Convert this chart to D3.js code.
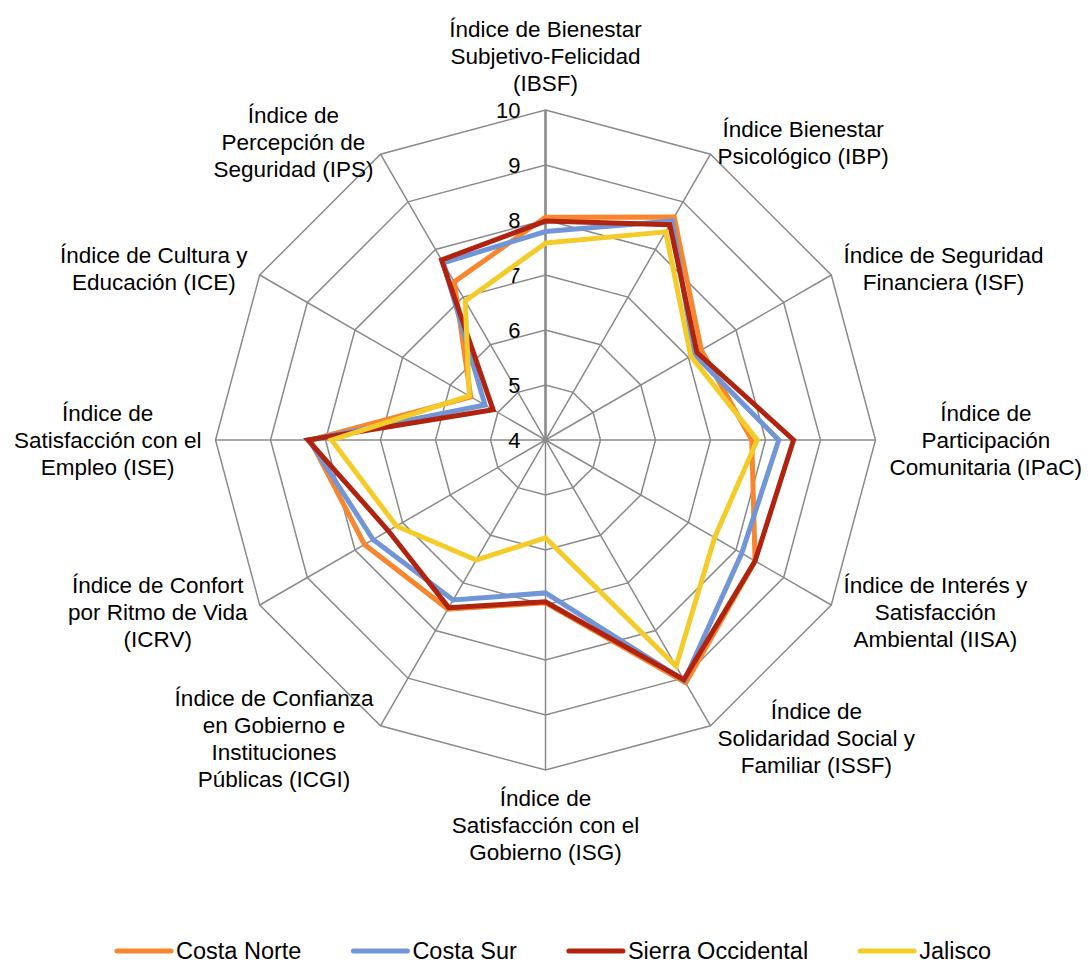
<!DOCTYPE html>
<html>
<head>
<meta charset="utf-8">
<script src="https://cdn.jsdelivr.net/npm/d3@7"></script>
<style>
  body { margin: 0; background: #fff; }
  svg { display: block; font-family: "Liberation Sans", Arial, sans-serif; }
</style>
</head>
<body>
<svg width="1091" height="963"></svg>
<script>
// categories (one per spoke, clockwise from top), each split in lines as drawn
var categories = [
  ["Índice de Bienestar", "Subjetivo-Felicidad", "(IBSF)"],
  ["Índice Bienestar", "Psicológico (IBP)"],
  ["Índice de Seguridad", "Financiera (ISF)"],
  ["Índice de", "Participación", "Comunitaria (IPaC)"],
  ["Índice de Interés y", "Satisfacción", "Ambiental (IISA)"],
  ["Índice de", "Solidaridad Social y", "Familiar (ISSF)"],
  ["Índice de", "Satisfacción con el", "Gobierno (ISG)"],
  ["Índice de Confianza", "en Gobierno e", "Instituciones", "Públicas (ICGI)"],
  ["Índice de Confort", "por Ritmo de Vida", "(ICRV)"],
  ["Índice de", "Satisfacción con el", "Empleo (ISE)"],
  ["Índice de Cultura y", "Educación (ICE)"],
  ["Índice de", "Percepción de", "Seguridad (IPS)"]
];

var seriesNames = ["Costa Norte", "Costa Sur", "Sierra Occidental", "Jalisco"];

var costaNorte = [8.05, 8.68, 7.27, 7.75, 8.40, 9.10, 6.96, 7.55, 7.80, 8.28, 5.57, 7.32];
var costaSur   = [7.79, 8.60, 7.12, 8.24, 8.12, 9.05, 6.78, 7.36, 7.62, 8.30, 5.27, 7.72];
var sierraOcc  = [7.98, 8.52, 7.18, 8.51, 8.40, 9.03, 6.94, 7.52, 7.30, 8.32, 5.10, 7.78];
var jalisco    = [7.58, 8.37, 7.05, 7.85, 7.55, 8.75, 5.78, 6.52, 7.13, 7.89, 5.60, 6.92];

var tickValues = [4, 5, 6, 7, 8, 9, 10];

var colors = ["#f7862f", "#7196d8", "#b0230f", "#f3cc2a"];

var svg = d3.select("svg"),
    cx = 545.5,
    cy = 440,
    R = 330,
    fontSize = 22.5,
    lineH = 27;

var series = [costaNorte, costaSur, sierraOcc, jalisco].map(function(v, i) {
  return {name: seriesNames[i], values: v};
});

var r = d3.scaleLinear().domain([4, 10]).range([0, R]);
var angle = d3.scaleLinear().domain([0, categories.length]).range([0, 2 * Math.PI]);

function pt(i, v) {
  var a = angle(i);
  return [cx + r(v) * Math.sin(a), cy - r(v) * Math.cos(a)];
}

var g = svg.append("g");

// ring grid
g.append("g").selectAll("polygon")
  .data(tickValues.slice(1))
  .enter().append("polygon")
    .attr("points", function(t) {
      return categories.map(function(c, i) { return pt(i, t).join(","); }).join(" ");
    })
    .attr("fill", "none")
    .attr("stroke", "#8a8a8a")
    .attr("stroke-width", 1.5);

// spokes
g.append("g").selectAll("line")
  .data(categories)
  .enter().append("line")
    .attr("x1", cx).attr("y1", cy)
    .attr("x2", function(d, i) { return pt(i, 10)[0]; })
    .attr("y2", function(d, i) { return pt(i, 10)[1]; })
    .attr("stroke", "#8a8a8a")
    .attr("stroke-width", function(d, i) { return i === 0 ? 2.6 : 1.5; });

// value ticks along the first spoke
g.append("g").selectAll("text")
  .data(tickValues)
  .enter().append("text")
    .attr("x", cx - 25)
    .attr("y", function(t) { return cy - r(t); })
    .attr("dy", "0.36em")
    .attr("text-anchor", "end")
    .attr("font-size", 22)
    .attr("fill", "#000")
    .text(function(t) { return t; });

// series lines
var line = d3.line()
  .x(function(d, i) { return pt(i, d)[0]; })
  .y(function(d, i) { return pt(i, d)[1]; })
  .curve(d3.curveLinearClosed);

g.append("g").selectAll("path")
  .data(series)
  .enter().append("path")
    .attr("d", function(s) { return line(s.values); })
    .attr("fill", "none")
    .attr("stroke", function(s, i) { return colors[i]; })
    .attr("stroke-width", 5)
    .attr("stroke-linejoin", "miter");

// category labels, pushed outwards from the end of each spoke
var gap = 14;
var labels = g.append("g").selectAll("text")
  .data(categories)
  .enter().append("text")
    .attr("text-anchor", "middle")
    .attr("font-size", fontSize)
    .attr("fill", "#000");

labels.each(function(lines, i) {
  var t = d3.select(this);
  lines.forEach(function(s, k) {
    t.append("tspan").attr("x", 0).attr("y", k * lineH).text(s);
  });
  var a = angle(i), sa = Math.sin(a), ca = Math.cos(a);
  var w = d3.max(t.selectAll("tspan").nodes(), function(n) { return n.getComputedTextLength(); });
  var h = lines.length * lineH;
  var e = pt(i, 10);
  var mx = e[0] + gap * sa, my = e[1] - gap * ca;
  if (Math.abs(sa) > 0.01) mx += Math.sign(sa) * w / 2;
  else my -= Math.sign(ca) * h / 2;
  // block centre -> first baseline
  var y0 = my - h / 2 + lineH / 2 + fontSize * 0.36;
  t.attr("transform", "translate(" + mx + "," + y0 + ")");
});

// legend
var legendSize = 23.5;
var legend = svg.append("g").attr("transform", "translate(0,951)");
var items = legend.selectAll("g")
  .data(series)
  .enter().append("g");

items.append("line")
  .attr("x1", 2).attr("x2", 56)
  .attr("y1", 0).attr("y2", 0)
  .attr("stroke", function(s, i) { return colors[i]; })
  .attr("stroke-width", 5)
  .attr("stroke-linecap", "round");

items.append("text")
  .attr("x", 61)
  .attr("dy", "0.36em")
  .attr("font-size", legendSize)
  .attr("fill", "#000")
  .text(function(s) { return s.name; });

var widths = items.select("text").nodes().map(function(n) { return 61 + n.getComputedTextLength(); });
var spacing = 50;
var total = d3.sum(widths) + spacing * (widths.length - 1);
var x0 = 553 - total / 2;
items.attr("transform", function(s, i) {
  var x = x0 + d3.sum(widths.slice(0, i)) + spacing * i;
  return "translate(" + x + ",0)";
});
</script>
</body>
</html>
